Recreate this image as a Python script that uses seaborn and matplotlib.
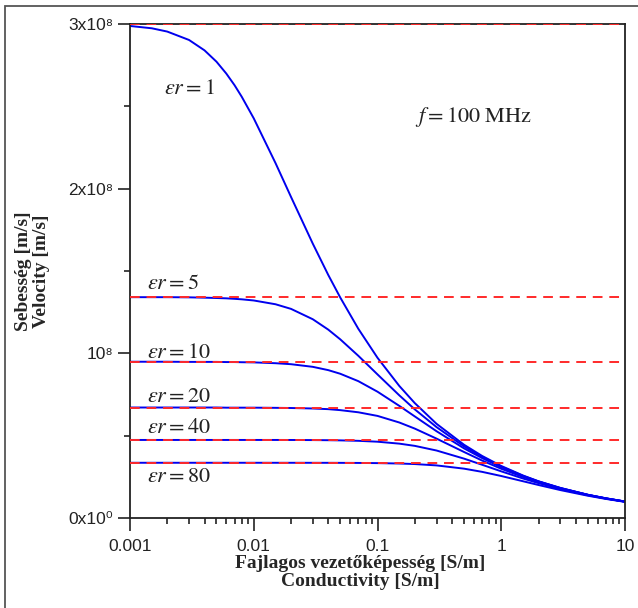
import numpy as np
import pandas as pd
import seaborn as sns
import matplotlib.pyplot as plt
from matplotlib.patches import Rectangle
from matplotlib.ticker import FixedLocator, FixedFormatter, NullFormatter

# conductivity [S/m]
sigma = [0.001, 0.0015, 0.002, 0.003, 0.004, 0.005, 0.006, 0.007, 0.008, 0.01, 0.015,
         0.02, 0.03, 0.04, 0.05, 0.07, 0.1, 0.15, 0.2, 0.3, 0.5, 0.7, 1, 1.5, 2, 3, 5, 7, 10]

# velocity [1e7 m/s] for each relative permittivity
v_er1 = [29.88, 29.74, 29.54, 29.03, 28.40, 27.71, 26.99, 26.28, 25.58, 24.27, 21.55,
         19.50, 16.66, 14.76, 13.39, 11.49, 9.73, 8.02, 6.98, 5.72, 4.45, 3.77, 3.16, 2.58,
         2.23, 1.83, 1.41, 1.20, 1.00]
v_er5 = [13.41, 13.41, 13.41, 13.40, 13.38, 13.36, 13.34, 13.31, 13.28, 13.21, 12.98,
         12.70, 12.07, 11.44, 10.85, 9.85, 8.72, 7.45, 6.60, 5.52, 4.35, 3.71, 3.12, 2.56,
         2.22, 1.82, 1.41, 1.19, 1.00]
v_er10 = [9.49, 9.49, 9.49, 9.48, 9.48, 9.48, 9.47, 9.47, 9.46, 9.45, 9.40,
          9.34, 9.18, 8.98, 8.76, 8.31, 7.67, 6.81, 6.17, 5.27, 4.23, 3.64, 3.08, 2.54,
          2.21, 1.81, 1.41, 1.19, 1.00]
v_er20 = [6.71, 6.71, 6.71, 6.71, 6.71, 6.71, 6.70, 6.70, 6.70, 6.70, 6.69,
          6.68, 6.65, 6.61, 6.55, 6.42, 6.20, 5.80, 5.43, 4.82, 4.01, 3.49, 2.99, 2.49,
          2.18, 1.79, 1.40, 1.19, 0.995]
v_er40 = [4.74, 4.74, 4.74, 4.74, 4.74, 4.74, 4.74, 4.74, 4.74, 4.74, 4.74,
          4.738, 4.732, 4.724, 4.714, 4.687, 4.633, 4.516, 4.381, 4.098, 3.606, 3.234, 2.833,
          2.399, 2.117, 1.760, 1.384, 1.177, 0.990]
v_er80 = [3.354, 3.354, 3.354, 3.354, 3.354, 3.354, 3.354, 3.354, 3.354, 3.354, 3.353,
          3.353, 3.352, 3.351, 3.349, 3.344, 3.333, 3.309, 3.276, 3.194, 2.997, 2.803, 2.550,
          2.232, 2.004, 1.697, 1.354, 1.159, 0.979]

eps_r = [1, 5, 10, 20, 40, 80]
lossless = [30.0, 13.42, 9.49, 6.71, 4.74, 3.35]   # 1e7 m/s
label_y = [26.1, 14.27, 10.08, 7.35, 5.47, 2.49]   # 1e7 m/s
label_x = [0.0019, 0.00137, 0.00137, 0.00137, 0.00137, 0.00137]

rows = []
for er, vals in zip(eps_r, [v_er1, v_er5, v_er10, v_er20, v_er40, v_er80]):
    for s, v in zip(sigma, vals):
        rows.append({'sigma': s, 'v': v * 1e7, 'er': er})
df = pd.DataFrame(rows)

sns.set_style('ticks')
plt.rcParams['mathtext.fontset'] = 'stix'
plt.rcParams['font.family'] = ['Liberation Sans', 'DejaVu Sans']

fig = plt.figure(figsize=(6.38, 6.08), dpi=100)
ax = fig.add_axes([130 / 638, 90 / 608, 495 / 638, 494 / 608])

sns.lineplot(data=df, x='sigma', y='v', hue='er', palette=['#0000ee'] * 6,
             legend=False, lw=1.4, ax=ax, zorder=2)
ax.hlines([v * 1e7 for v in lossless], 0.001, 10, colors='#ff2a2a',
          linestyles=(0, (5, 3.5)), lw=1.4, zorder=3)

ax.set_xscale('log')
ax.set_xlim(0.001, 10)
ax.set_ylim(0, 3e8)

ax.xaxis.set_major_locator(FixedLocator([0.001, 0.01, 0.1, 1, 10]))
ax.xaxis.set_major_formatter(FixedFormatter(['0.001', '0.01', '0.1', '1', '10']))
ax.xaxis.set_minor_formatter(NullFormatter())
ax.yaxis.set_major_locator(FixedLocator([0, 1e8, 2e8, 3e8]))
ax.yaxis.set_major_formatter(FixedFormatter(['0x10⁰', '10⁸', '2x10⁸', '3x10⁸']))
ax.yaxis.set_minor_locator(FixedLocator([0.5e8, 1.5e8, 2.5e8]))

ax.tick_params(which='major', direction='out', length=9, width=1.2, labelsize=12.5,
               pad=3, colors='#222222')
ax.tick_params(which='minor', direction='out', length=4.5, width=1.2, colors='#222222')
ax.tick_params(axis='x', which='major', pad=6)
for sp in ax.spines.values():
    sp.set_linewidth(1.3)
    sp.set_color('#222222')

ax.set_xlabel('Fajlagos vezetőképesség [S/m]\nConductivity [S/m]', family='Liberation Serif',
              fontweight='bold', fontsize=14, linespacing=1.1)
ax.xaxis.set_label_coords(0.465, -0.075, transform=ax.transAxes)
ax.xaxis.label.set_va('top')
ax.set_ylabel('Sebesség [m/s]\nVelocity [m/s]', family='Liberation Serif',
              fontweight='bold', fontsize=14, linespacing=1.1)
ax.yaxis.set_label_coords(-0.162, 0.5, transform=ax.transAxes)
ax.yaxis.label.set_va('bottom')

for er, lx, ly in zip(eps_r, label_x, label_y):
    ax.text(lx, ly * 1e7, r'$\varepsilon r = %d$' % er, fontsize=16,
            ha='left', va='center', color='#222222')
ax.text(0.2, 2.435e8, r'$f = 100\ \mathrm{MHz}$', fontsize=16,
        ha='left', va='center', color='#222222')

fig.patches.append(Rectangle((5 / 638, -0.01), 1.02, 1 - 6 / 608 + 0.01,
                             transform=fig.transFigure, fill=False,
                             edgecolor='#555555', lw=1.3))

fig.savefig('out.png', dpi=100)
